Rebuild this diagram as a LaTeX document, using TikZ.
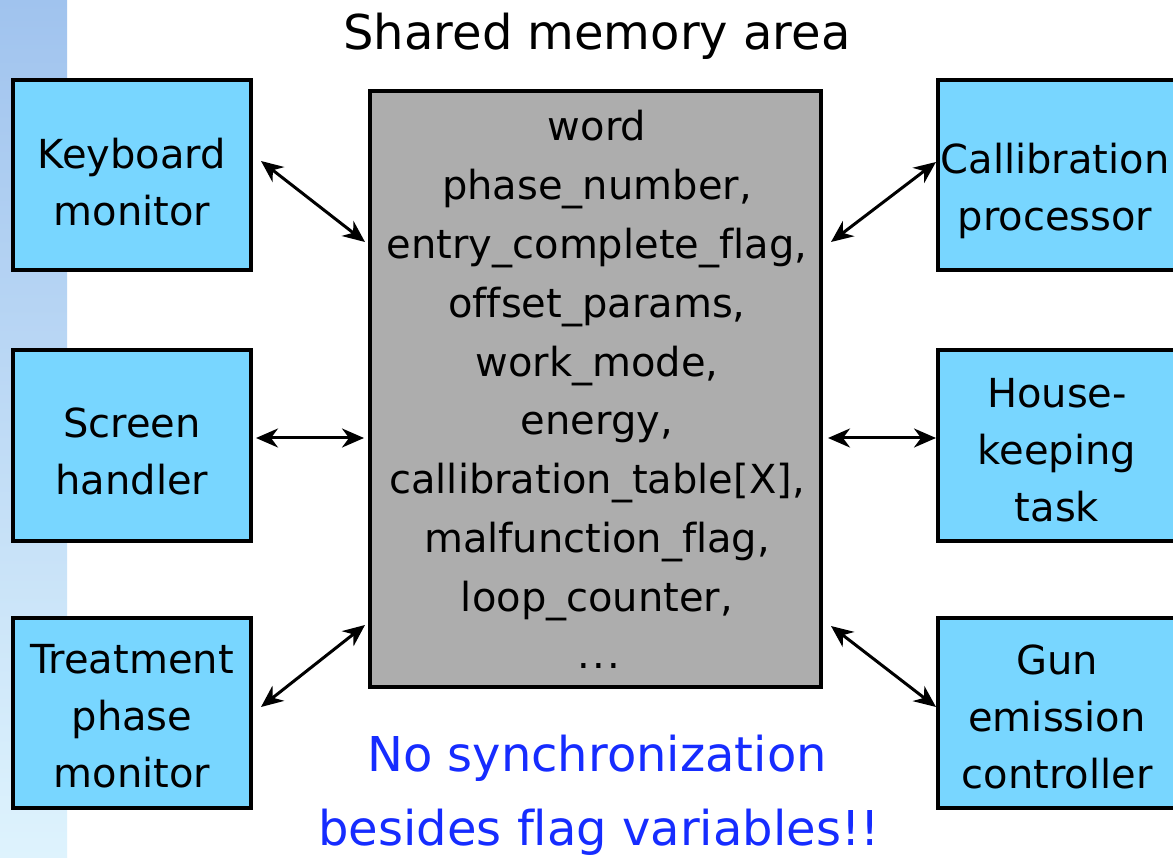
\documentclass[tikz,border=0pt]{standalone}
\usepackage{fontspec}
\setmainfont{DejaVu Sans}[Ligatures={NoCommon}]
\usetikzlibrary{arrows.meta}
\definecolor{taskblue}{RGB}{120,214,255}
\definecolor{memgray}{RGB}{173,173,173}
\definecolor{notecolor}{RGB}{22,44,255}
\definecolor{bartop}{RGB}{160,195,238}
\definecolor{barbot}{RGB}{222,243,253}
\tikzset{
  taskbox/.style={draw=black, line width=3.4pt, fill=taskblue},
  tasklabel/.style={font=\fontsize{40}{57}\selectfont, align=center, text=black},
  memline/.style={font=\fontsize{40}{48}\selectfont, anchor=base, text=black},
  tipend/.tip={Stealth[length=22pt,width=19pt,inset=7pt]},
  link/.style={line width=3pt, tipend-tipend},
}
\begin{document}
\begin{tikzpicture}[x=1pt,y=-1pt]
\useasboundingbox (0,0) rectangle (1173,858);
\fill[white] (0,0) rectangle (1173,858);
% decorative side bar
\shade[top color=bartop, bottom color=barbot] (0,0) rectangle (67,858);

% title
\node[font=\fontsize{48}{58}\selectfont, anchor=base] (title) at (597,50) {Shared memory area};

% shared memory block
\draw[line width=3.4pt, fill=memgray] (370,91) rectangle (821,687);
\node[memline] (m0) at (597,141.0) {word};
\node[memline] (m1) at (597,199.8) {phase\_number,};
\node[memline] (m2) at (597,258.6) {entry\_complete\_flag,};
\node[memline] (m3) at (597,317.4) {offset\_params,};
\node[memline] (m4) at (597,376.2) {work\_mode,};
\node[memline] (m5) at (597,435.0) {energy,};
\node[memline] (m6) at (597,493.8) {callibration\_table[X],};
\node[memline] (m7) at (597,552.6) {malfunction\_flag,};
\node[memline] (m8) at (597,611.4) {loop\_counter,};
\node[memline] (m9) at (599,668.0) {.\kern2.5pt.\kern2.5pt.};

% tasks on the left
\draw[taskbox] (13,80) rectangle (251,270);
\node[tasklabel] (kbd) at (132,182) {Keyboard\\monitor};
\draw[taskbox] (13,350) rectangle (251,541);
\node[tasklabel] (scr) at (132,451) {Screen\\handler};
\draw[taskbox] (13,618) rectangle (251,808);
\node[tasklabel] (trt) at (132,716) {Treatment\\phase\\monitor};

% tasks on the right
\draw[taskbox] (938,80) rectangle (1190,270);
\node[tasklabel] (cal) at (1055,191) {Callibration\\processor};
\draw[taskbox] (938,350) rectangle (1190,541);
\node[tasklabel] (hk) at (1057,450) {House-\\keeping\\task};
\draw[taskbox] (938,618) rectangle (1190,808);
\node[tasklabel] (gun) at (1057,717) {Gun\\emission\\controller};

% connector end points
\coordinate (kbdE) at (261,161);
\coordinate (memKbd) at (365,242);
\coordinate (scrE) at (256,438);
\coordinate (memScr) at (364,438);
\coordinate (trtE) at (261,707);
\coordinate (memTrt) at (365,625);
\coordinate (calW) at (936,162);
\coordinate (memCal) at (831,242);
\coordinate (hkW) at (936,438);
\coordinate (memHk) at (828,438);
\coordinate (gunW) at (936,707);
\coordinate (memGun) at (831,626);

\draw[link] (kbdE) -- (memKbd);
\draw[link] (scrE) -- (memScr);
\draw[link] (trtE) -- (memTrt);
\draw[link] (calW) -- (memCal);
\draw[link] (hkW) -- (memHk);
\draw[link] (gunW) -- (memGun);

% note
\node[font=\fontsize{48}{58}\selectfont, anchor=base, text=notecolor] (note1) at (597,771) {No synchronization};
\node[font=\fontsize{48}{58}\selectfont, anchor=base, text=notecolor] (note2) at (599,845) {besides flag variables!!};
\end{tikzpicture}
\end{document}
